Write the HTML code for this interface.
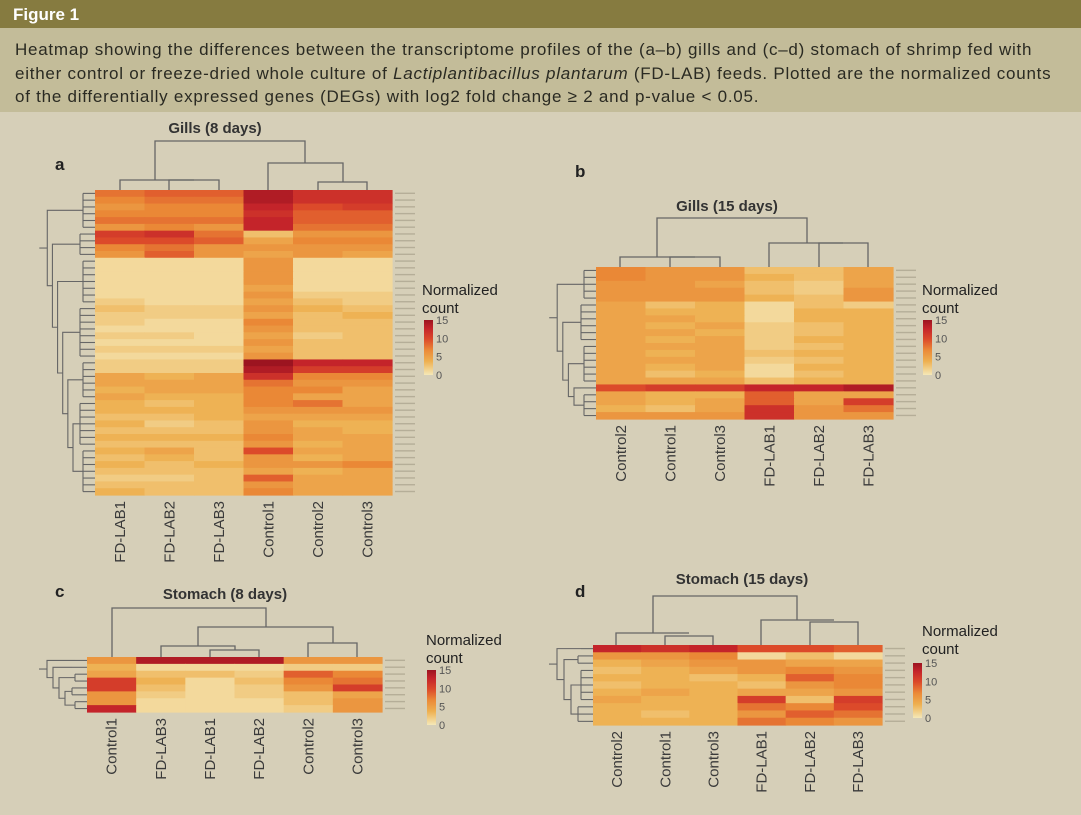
<!DOCTYPE html>
<html><head><meta charset="utf-8"><style>
body{margin:0;background:#d6cfb8;}
svg{display:block;font-family:"Liberation Sans",sans-serif;}
</style></head><body>
<svg id="fig" width="1081" height="815" viewBox="0 0 1081 815">
<defs><linearGradient id="lg" x1="0" y1="0" x2="0" y2="1">
<stop offset="0" stop-color="#9c1420"/><stop offset="0.15" stop-color="#c4242a"/><stop offset="0.35" stop-color="#dc4a2a"/><stop offset="0.55" stop-color="#eb8a38"/><stop offset="0.75" stop-color="#eeb050"/><stop offset="1" stop-color="#f4e8b8"/></linearGradient></defs>
<rect x="0" y="0" width="1081" height="815" fill="#d6cfb8"/>
<rect x="0" y="0" width="1081" height="28" fill="#867b40"/>
<text x="13" y="20" fill="#fff" font-weight="bold" font-size="17">Figure 1</text>
<rect x="0" y="28" width="1081" height="84" fill="#c3bc99"/>
<g font-size="17" letter-spacing="0.75" fill="#2a2a22">
<text x="15" y="55">Heatmap showing the differences between the transcriptome profiles of the (a–b) gills and (c–d) stomach of shrimp fed with</text>
<text x="15" y="79">either control or freeze-dried whole culture of <tspan font-style="italic">Lactiplantibacillus plantarum</tspan> (FD-LAB) feeds. Plotted are the normalized counts</text>
<text x="15" y="102">of the differentially expressed genes (DEGs) with log2 fold change ≥ 2 and p-value &lt; 0.05.</text>
</g>
<g id="panels"></g>
</svg>
<script>
// ---- data ----
const colsA = ["FD-LAB1","FD-LAB2","FD-LAB3","Control1","Control2","Control3"];
const colsB = ["Control2","Control1","Control3","FD-LAB1","FD-LAB2","FD-LAB3"];
const colsC = ["Control1","FD-LAB3","FD-LAB1","FD-LAB2","Control2","Control3"];
const colsD = ["Control2","Control1","Control3","FD-LAB1","FD-LAB2","FD-LAB3"];
const legendTicks = [15,10,5,0];
const valuesA = [
[8,9,9,14,12,12],[7,8,8,14,12,12],[6,7,7,13,10,11],[7,7,7,12,9,9],[8,8,8,13,9,9],[6,7,6,13,8,8],
[11,12,8,3,6,6],[10,10,9,5,7,7],[7,8,6,6,6,6],[6,9,6,5,6,5],
[1,1,1,6,1,1],[1,1,1,6,1,1],[1,1,1,6,1,1],[1,1,1,6,1,1],[1,1,1,5,1,1],[1,1,1,6,2,2],[2,1,1,5,3,2],
[3,2,2,6,4,3],[2,2,2,5,3,4],[2,1,1,7,3,3],[1,1,1,6,3,3],[2,2,1,5,2,3],[1,1,1,6,3,3],[2,2,2,5,3,3],[1,1,1,6,3,3],
[2,2,2,15,13,13],[2,2,2,14,11,11],[5,4,5,12,7,7],[5,5,5,8,6,6],[4,5,5,7,7,5],[5,4,4,7,5,5],
[4,3,4,7,8,5],[4,4,4,6,6,6],[3,3,4,5,5,5],[4,2,3,6,4,4],[3,3,3,6,5,4],[4,4,4,7,5,5],[3,3,3,6,4,5],
[4,5,3,10,5,5],[3,4,3,6,4,5],[4,3,4,6,6,7],[3,3,3,5,4,5],[2,2,3,9,5,5],[3,3,3,6,5,5],[4,3,3,7,5,5]];
const valuesB = [
[7,6,6,3,3,5],[7,6,6,4,3,5],[6,6,5,3,2,5],[6,6,6,3,2,6],[6,6,6,4,3,6],
[5,3,4,1,3,2],[5,4,4,1,4,4],[5,5,4,1,4,4],[5,4,5,2,3,4],[5,5,4,2,3,4],[5,4,5,2,4,4],
[5,5,5,2,3,4],[5,4,5,3,4,4],[5,5,5,2,3,4],[5,4,5,1,4,4],[5,3,4,1,3,4],[5,5,5,3,4,4],
[10,11,11,13,13,14],
[5,4,4,9,5,5],[5,4,5,9,5,11],[4,3,5,12,6,8],[6,6,6,12,6,6]];
const valuesC = [
[6,14,14,14,6,6],[4,1,1,1,2,2],[5,3,3,2,9,7],[11,4,1,3,7,8],[11,3,1,2,6,11],[6,2,1,2,3,5],[6,1,1,1,3,6],[13,1,1,1,2,6]];
const valuesD = [
[13,12,13,10,10,9],[6,6,7,1,3,1],[4,5,6,6,5,5],[3,4,5,6,7,6],[4,4,3,4,9,7],[3,4,4,3,6,7],
[4,5,4,5,5,6],[5,4,4,11,3,11],[4,4,4,8,7,10],[4,3,4,6,9,8],[4,4,4,8,7,6]];
const rowGroupsA = [6,4,7,8,6,7,7];
const rowGroupsB = [5,6,6,1,4];
const rowGroupsC = [1,1,2,2,2];
const rowGroupsD = [1,2,5,3];

const stops=[[0,[244,230,180]],[4,[238,178,84]],[7,[234,136,54]],[10,[220,74,42]],[13,[196,36,42]],[15,[156,20,32]]];
function col(v){v=Math.max(0,Math.min(15,v));for(let i=1;i<stops.length;i++){if(v<=stops[i][0]){const a=stops[i-1],b=stops[i],t=(v-a[0])/(b[0]-a[0]);const c=a[1].map((x,k)=>Math.round(x+(b[1][k]-x)*t));return `rgb(${c})`;}}return 'rgb(156,20,32)';}
const NS="http://www.w3.org/2000/svg";
const root=document.getElementById('panels');
function el(tag,attrs,parent){const e=document.createElementNS(NS,tag);for(const k in attrs)e.setAttribute(k,attrs[k]);(parent||root).appendChild(e);return e;}
function txt(x,y,s,attrs,parent){const t=el('text',Object.assign({x:x,y:y},attrs),parent);t.textContent=s;return t;}

function panel(p){
  const g=el('g',{});
  
  
  const n=p.vals.length, cw=(p.x1-p.x0)/6, rh=(p.y1-p.y0)/n;
  const xs=i=>p.x0+cw*(i+0.5), ys=r=>p.y0+rh*(r+0.5);
  p.vals.forEach((row,r)=>row.forEach((v,c)=>{
    const cell=el('rect',{x:p.x0+c*cw,y:p.y0+r*rh,width:cw+0.6,height:rh+0.6,fill:col(v)},g);
    
    
  }));
  for(let r=0;r<n;r++){const s=el('rect',{x:p.x1+3,y:ys(r)-0.8,width:20,height:1.4,fill:'#b5ae98'},g);
    }
  p.cols.forEach((c,i)=>{const t=txt(0,0,c,{transform:`translate(${xs(i)+5},${p.y1+6}) rotate(-90)`,'text-anchor':'end','font-size':15,fill:'#3a3a3a'},g);
    });
  const d=el('g',{stroke:'#666','stroke-width':1.3,fill:'none'},g);
  
  p.cd.forEach(s=>el('path',{d:s},d));
  const rd=el('g',{stroke:'#666','stroke-width':1.1,fill:'none'},g);
  
  let r0=0;const mids=[];
  p.groups.forEach((k,gi)=>{
    const a=ys(r0),b=ys(r0+k-1);const gx=p.x0-12-(gi%2)*3;
    for(let r=r0;r<r0+k;r++)el('line',{x1:gx,x2:p.x0,y1:ys(r),y2:ys(r)},rd);
    el('line',{x1:gx,x2:gx,y1:a,y2:b},rd);mids.push([gx,(a+b)/2]);r0+=k;});
  let cur=mids[mids.length-1];let depth=p.x0-22;
  for(let i=mids.length-2;i>=0;i--){const m=mids[i];const x=depth-(mids.length-2-i)*(p.rowW/mids.length);
    el('path',{d:`M${m[0]},${m[1]}H${x}V${cur[1]}H${cur[0]}`},rd);cur=[x,(m[1]+cur[1])/2];}
  el('line',{x1:cur[0],x2:cur[0]-8,y1:cur[1],y2:cur[1]},rd);
  const t1=txt(p.tx,p.ty,p.title,{'text-anchor':'middle','font-size':15,'font-weight':'bold',fill:'#333'},g);
  
  const t2=txt(p.lx,p.ly,p.id,{'font-size':17,'font-weight':'bold',fill:'#222'},g);
  
  const lg=el('g',{},g);
  txt(p.gx,p.gy,'Normalized',{'font-size':15,fill:'#222'},lg);
  txt(p.gx,p.gy+18,'count',{'font-size':15,fill:'#222'},lg);
  el('rect',{x:p.bx,y:p.by,width:9,height:55,fill:'url(#lg)'},lg);
  legendTicks.forEach(v=>txt(p.bx+12,p.by+4+(15-v)/15*55,String(v),{'font-size':11,fill:'#555'},lg));
}
panel({id:'a',vals:valuesA,cols:colsA,groups:rowGroupsA,x0:95,x1:392,y0:190,y1:495,rowW:36,
  title:'Gills (8 days)',tx:215,ty:133,lx:55,ly:170,gx:422,gy:295,bx:424,by:320,
  cd:['M155,180V141H305V163','M120,190V180H194','M169,190V180H219V190','M268,190V163H343V182','M318,190V182H367V190']});
panel({id:'b',vals:valuesB,cols:colsB,groups:rowGroupsB,x0:596,x1:893,y0:267,y1:419,rowW:28,
  title:'Gills (15 days)',tx:727,ty:211,lx:575,ly:177,gx:922,gy:295,bx:923,by:320,
  cd:['M657,257V218H807V243','M620,267V257H695','M670,267V257H720V267','M769,267V243H843','M819,267V243H868V267']});
panel({id:'c',vals:valuesC,cols:colsC,groups:rowGroupsC,x0:87,x1:382,y0:657,y1:712,rowW:30,
  title:'Stomach (8 days)',tx:225,ty:599,lx:55,ly:597,gx:426,gy:645,bx:427,by:670,
  cd:['M112,657V608H266V627','M198,646V627H333V643','M161,657V646H235V650','M210,657V650H259V657','M308,657V643H357V657']});
panel({id:'d',vals:valuesD,cols:colsD,groups:rowGroupsD,x0:593,x1:882,y0:645,y1:725,rowW:28,
  title:'Stomach (15 days)',tx:742,ty:584,lx:575,ly:597,gx:922,gy:636,bx:913,by:663,
  cd:['M653,633V596H797V620','M616,645V633H689','M665,645V636H713V645','M761,645V620H834','M810,645V622H858V645']});
</script>
</body></html>
